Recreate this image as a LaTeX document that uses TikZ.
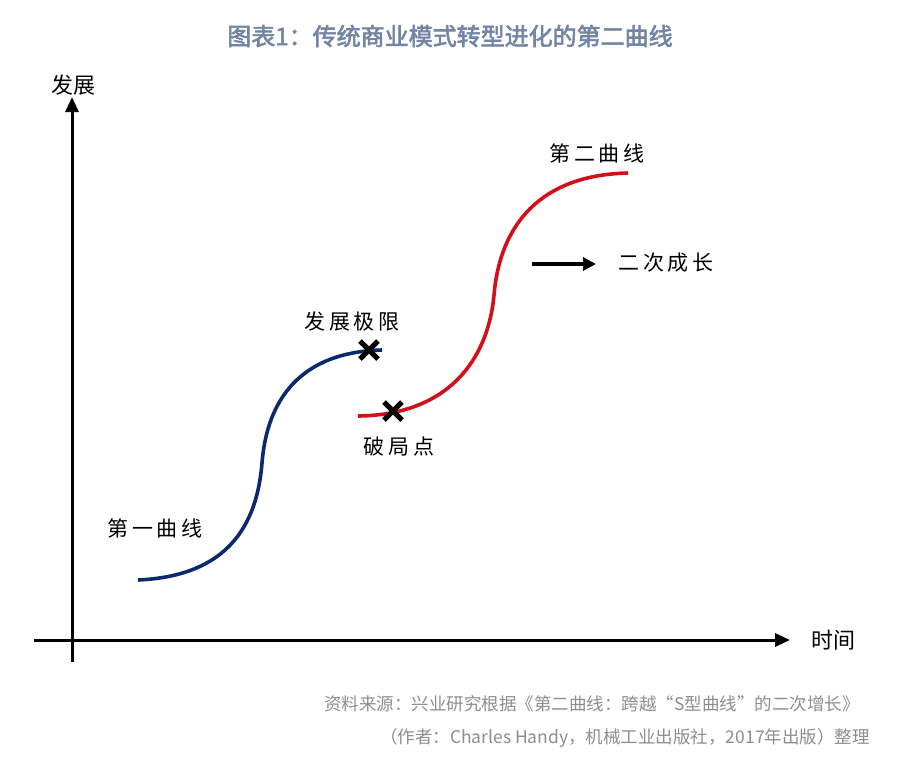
\documentclass[tikz,border=0pt]{standalone}
\usepackage{fontspec}
\setmainfont{Noto Sans CJK SC}
\newfontfamily\cjk{Noto Sans CJK SC}
\newfontfamily\cjktitle[FakeBold=2.5]{Noto Sans CJK SC}
\newfontfamily\cjklbl[LetterSpace=18]{Noto Sans CJK SC}
\usetikzlibrary{arrows.meta,shapes.misc}
\definecolor{titlecol}{HTML}{7286A4}
\definecolor{srccol}{HTML}{8E8E8E}
\definecolor{curveblue}{HTML}{0B2A6E}
\definecolor{curvered}{HTML}{D2101A}
\tikzset{
  axis/.style={line width=3pt, -{Triangle[length=15pt,width=13pt]}},
  lbl/.style={font=\cjklbl\fontsize{21}{24}\selectfont, text=black, inner sep=0pt},
  axlbl/.style={font=\cjk\fontsize{22}{24}\selectfont, text=black, inner sep=0pt},
  src/.style={font=\cjk\fontsize{17.5}{20}\selectfont, text=srccol, inner sep=0pt, anchor=east},
  xmark/.style={cross out, draw=black, line width=5pt, minimum size=13pt, inner sep=0pt},
  curve/.style={line width=3.6pt},
}
\begin{document}
\begin{tikzpicture}[x=1pt,y=-1pt]
\useasboundingbox[fill=white] (0,0) rectangle (900,782);
% title
\node[font=\cjktitle\fontsize{24}{28}\selectfont, text=titlecol, inner sep=0pt] (title) at (450,36) {图表1：传统商业模式转型进化的第二曲线};
% axes
\coordinate (ybot) at (72,662);
\coordinate (ytop) at (72,97);
\coordinate (xleft) at (34,640);
\coordinate (xright) at (790,640);
\draw[axis] (ybot) -- (ytop);
\draw[axis] (xleft) -- (xright);
\node[axlbl] (ylab) at (73,85) {发展};
\node[axlbl] (xlab) at (833,640) {时间};
% first curve
\coordinate (b0) at (138,580);
\coordinate (bm) at (262,463);
\coordinate (b1) at (382,350);
\draw[curve, curveblue] (b0) .. controls (228,576) and (257,525) .. (bm)
  .. controls (267,400) and (300,352) .. (b1);
% second curve
\coordinate (r0) at (358,416);
\coordinate (rm) at (494,295);
\coordinate (r1) at (628,173);
\draw[curve, curvered] (r0) .. controls (448,415) and (488,360) .. (rm)
  .. controls (500,225) and (540,175) .. (r1);
% marks
\node[xmark] (limit) at (369,350) {};
\node[xmark] (breakp) at (393,411) {};
% labels
\node[lbl] (l1) at (155,528) {第一曲线};
\node[lbl] (l2) at (352,322) {发展极限};
\node[lbl] (l3) at (399,447) {破局点};
\node[lbl] (l4) at (597,153) {第二曲线};
\node[lbl] (l5) at (666,263) {二次成长};
\coordinate (a0) at (532,264);
\coordinate (a1) at (596,264);
\draw[line width=3.8pt, -{Triangle[length=13pt,width=13pt]}] (a0) -- (a1);
% source
\node[src] (s1) at (860,704) {资料来源：兴业研究根据《第二曲线：跨越“S型曲线”的二次增长》};
\node[src] (s2) at (870,738) {（作者：Charles Handy，机械工业出版社，2017年出版）整理};
\end{tikzpicture}
\end{document}
